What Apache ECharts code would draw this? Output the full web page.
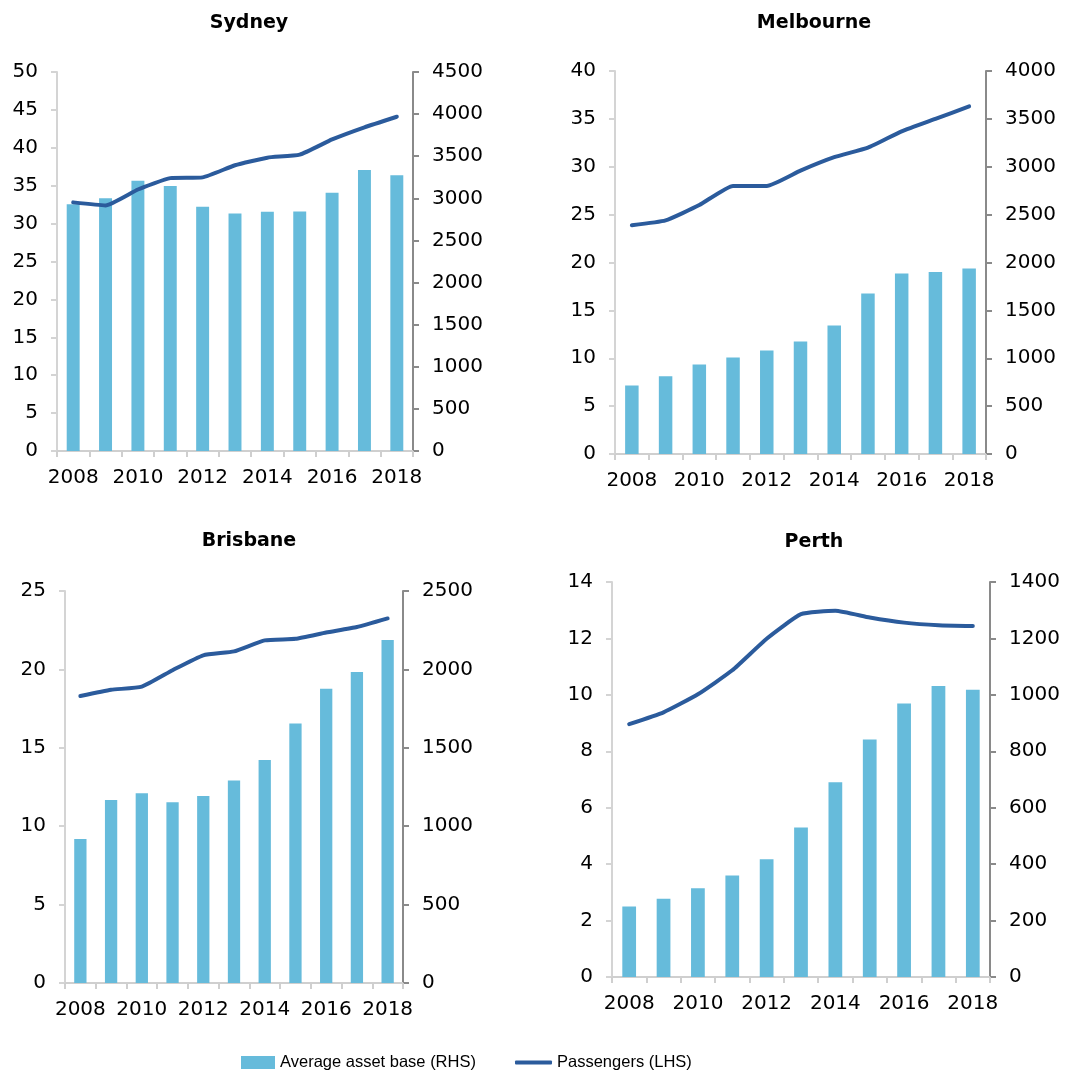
<!DOCTYPE html>
<html>
<head>
<meta charset="utf-8">
<script src="https://cdn.jsdelivr.net/npm/echarts@6/dist/echarts.min.js"></script>
<style>
html,body{margin:0;padding:0;background:#fff;}
#chart{width:1088px;height:1075px;}
</style>
</head>
<body>
<div id="chart"></div>
<script>
const years = ['2008','2009','2010','2011','2012','2013','2014','2015','2016','2017','2018'];

const sydneyAsset = [2930, 3000, 3210, 3145, 2900, 2820, 2840, 2845, 3065, 3335, 3275];
const sydneyPax   = [32.8, 32.4, 34.5, 36.0, 36.1, 37.7, 38.7, 39.1, 41.1, 42.7, 44.1];

const melbourneAsset = [715, 812, 934, 1007, 1080, 1174, 1341, 1676, 1885, 1902, 1937];
const melbournePax   = [23.9, 24.4, 26.0, 28.0, 28.0, 29.6, 31.0, 32.0, 33.7, 35.0, 36.3];

const brisbaneAsset = [919, 1167, 1210, 1152, 1193, 1292, 1422, 1655, 1876, 1984, 2188];
const brisbanePax   = [18.3, 18.7, 18.9, 19.95, 20.9, 21.15, 21.85, 21.95, 22.35, 22.7, 23.25];

const perthAsset = [250, 277, 315, 360, 417, 530, 690, 842, 969, 1031, 1018];
const perthPax   = [8.96, 9.38, 10.02, 10.87, 11.99, 12.86, 12.98, 12.74, 12.56, 12.47, 12.44];

const panelTitles = ['Sydney', 'Melbourne', 'Brisbane', 'Perth'];
const leftMax   = [50, 40, 25, 14];
const leftStep  = [5, 5, 5, 2];
const rightMax  = [4500, 4000, 2500, 1400];
const rightStep = [500, 500, 500, 200];

const assetSeries = [sydneyAsset, melbourneAsset, brisbaneAsset, perthAsset];
const paxSeries = [sydneyPax, melbournePax, brisbanePax, perthPax];

const grids = [
  {left: 57, top: 72, width: 356, height: 379},
  {left: 615, top: 71, width: 371, height: 383},
  {left: 65, top: 591, width: 338, height: 392},
  {left: 612, top: 582, width: 378, height: 395}
];
const titlePos = [
  {left: 244, top: 9},
  {left: 809, top: 9},
  {left: 244, top: 527},
  {left: 809, top: 528}
];

const BAR = '#66bbdb';
const LINE = '#2b5b9c';
const labelFont = {color: '#000', fontFamily: 'DejaVu Sans', fontSize: 20, formatter: v => String(v)};

const option = {
  animation: false,
  backgroundColor: '#fff',
  title: panelTitles.map((t, i) => ({
    text: t,
    left: titlePos[i].left,
    top: titlePos[i].top,
    textAlign: 'center',
    textStyle: {fontFamily: 'DejaVu Sans', fontWeight: 'bold', fontSize: 19, color: '#000'}
  })),
  legend: [
    {
      data: [{name: 'Average asset base (RHS)', icon: 'rect'}],
      left: 236, top: 1049,
      itemWidth: 34, itemHeight: 13, itemGap: 0,
      textStyle: {fontFamily: 'Liberation Sans', fontSize: 16.5, color: '#000'},
      selectedMode: false
    },
    {
      data: [{name: 'Passengers (LHS)', icon: 'roundRect'}],
      left: 510, top: 1049,
      itemWidth: 37, itemHeight: 4, itemGap: 0,
      textStyle: {fontFamily: 'Liberation Sans', fontSize: 16.5, color: '#000'},
      selectedMode: false
    }
  ],
  grid: grids.map(g => Object.assign({containLabel: false, outerBoundsMode: 'none'}, g)),
  xAxis: grids.map((g, i) => ({
    type: 'category',
    gridIndex: i,
    data: years,
    boundaryGap: true,
    axisLine: {show: true, lineStyle: {color: '#cfcfcf', width: 2}},
    axisTick: {show: true, interval: 0, length: 6, lineStyle: {color: '#cfcfcf', width: 2}},
    axisLabel: {interval: 1, margin: 17, color: '#000', fontFamily: 'DejaVu Sans', fontSize: 20},
    splitLine: {show: false}
  })),
  yAxis: [].concat(...grids.map((g, i) => ([
    {
      type: 'value',
      gridIndex: i,
      position: 'left',
      min: 0, max: leftMax[i], interval: leftStep[i],
      axisLine: {show: true, lineStyle: {color: '#d4d4d4', width: 2}},
      axisTick: {show: true, length: 6, lineStyle: {color: '#d4d4d4', width: 2}},
      axisLabel: Object.assign({margin: 19}, labelFont),
      splitLine: {show: false}
    },
    {
      type: 'value',
      gridIndex: i,
      position: 'right',
      min: 0, max: rightMax[i], interval: rightStep[i],
      axisLine: {show: true, lineStyle: {color: '#8a8a8a', width: 2}},
      axisTick: {show: true, length: 6, lineStyle: {color: '#8a8a8a', width: 2}},
      axisLabel: Object.assign({margin: 19}, labelFont),
      splitLine: {show: false}
    }
  ]))),
  series: [].concat(...grids.map((g, i) => ([
    {
      name: 'Average asset base (RHS)',
      type: 'bar',
      xAxisIndex: i,
      yAxisIndex: i * 2 + 1,
      data: assetSeries[i],
      barWidth: '40%',
      itemStyle: {color: BAR}
    },
    {
      name: 'Passengers (LHS)',
      type: 'line',
      xAxisIndex: i,
      yAxisIndex: i * 2,
      data: paxSeries[i],
      smooth: 0.15,
      symbol: 'none',
      lineStyle: {color: LINE, width: 4, cap: 'round', join: 'round'},
      itemStyle: {color: LINE}
    }
  ])))
};

const chart = echarts.init(document.getElementById('chart'), null, {renderer: 'canvas'});
chart.setOption(option);
</script>
</body>
</html>
